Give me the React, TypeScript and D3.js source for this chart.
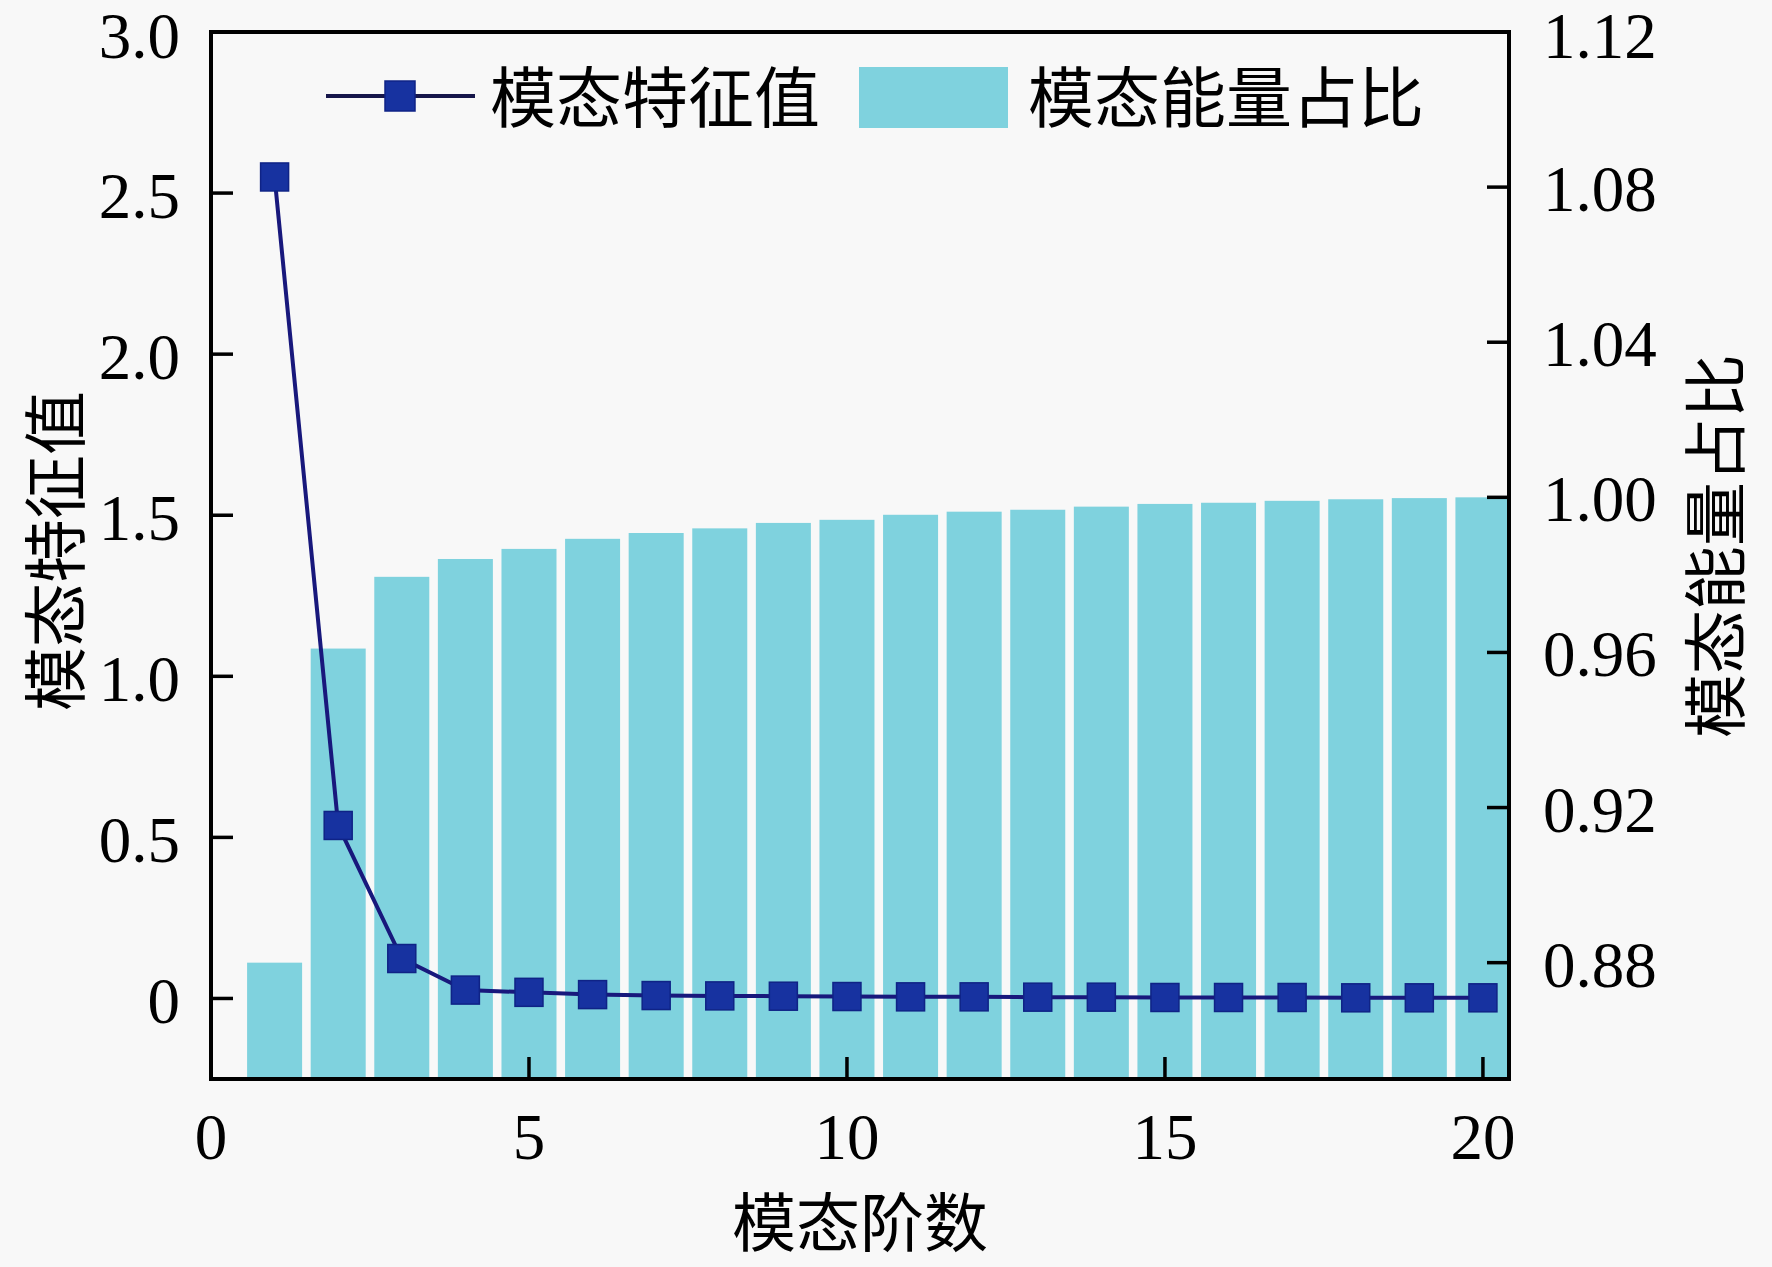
import React, { useEffect, useRef } from "react";
import * as d3 from "d3";

// mode order 1..20
const modeOrders = d3.range(1, 21);

// 模态特征值 (left axis)
const eigenValues = [
  2.55, 0.537, 0.124, 0.026, 0.019, 0.012, 0.009, 0.008, 0.007, 0.006,
  0.005, 0.005, 0.004, 0.004, 0.003, 0.003, 0.003, 0.002, 0.002, 0.002,
];

// 模态能量占比 (right axis)
const energyRatios = [
  0.88, 0.9610, 0.9795, 0.9841, 0.9867, 0.9893, 0.9908, 0.9920, 0.9934, 0.9942,
  0.9955, 0.9963, 0.9968, 0.9976, 0.9983, 0.9986, 0.9991, 0.9995, 0.9998, 1.0,
];

const xTicks = [0, 5, 10, 15, 20];
const leftTicks = [0, 0.5, 1.0, 1.5, 2.0, 2.5, 3.0];
const leftTickLabels = ["0", "0.5", "1.0", "1.5", "2.0", "2.5", "3.0"];
const rightTicks = [0.88, 0.92, 0.96, 1.0, 1.04, 1.08, 1.12];
const rightTickLabels = ["0.88", "0.92", "0.96", "1.00", "1.04", "1.08", "1.12"];

const seriesNames = ["模态特征值", "模态能量占比"];
const xTitle = "模态阶数";

const WIDTH = 1772;
const HEIGHT = 1267;

const App: React.FC = () => {
  const svgRef = useRef<SVGSVGElement>(null);

  useEffect(() => {
    if (!svgRef.current) return;
    const svg = d3.select(svgRef.current);
    svg.selectAll("*").remove();

    const margin = { top: 32, right: 263, bottom: 188, left: 211 };
    const innerWidth = WIDTH - margin.left - margin.right;
    const innerHeight = HEIGHT - margin.top - margin.bottom;

    const numFont = "'Liberation Serif', 'Times New Roman', serif";
    const cjkFont = "'Noto Sans CJK SC', 'Noto Sans', sans-serif";

    svg.append("rect")
      .attr("width", WIDTH)
      .attr("height", HEIGHT)
      .attr("fill", "#f8f8f8");

    const g = svg.append("g")
      .attr("transform", `translate(${margin.left},${margin.top})`);

    const xScale = d3.scaleLinear().domain([0, 20.41]).range([0, innerWidth]);
    const yLeft = d3.scaleLinear().domain([-0.25, 3.0]).range([innerHeight, 0]);
    const yRight = d3.scaleLinear().domain([0.85, 1.12]).range([innerHeight, 0]);

    g.append("clipPath")
      .attr("id", "plot-clip")
      .append("rect")
      .attr("width", innerWidth)
      .attr("height", innerHeight);

    // bars
    const barW = xScale(0.865) - xScale(0);
    g.append("g")
      .attr("clip-path", "url(#plot-clip)")
      .selectAll("rect")
      .data(modeOrders)
      .join("rect")
      .attr("x", (d) => xScale(d) - barW / 2)
      .attr("y", (d, i) => yRight(energyRatios[i]))
      .attr("width", barW)
      .attr("height", (d, i) => innerHeight - yRight(energyRatios[i]))
      .attr("fill", "#7fd2de");

    // eigenvalue line
    const line = d3.line<number>()
      .x((d) => xScale(d))
      .y((d, i) => yLeft(eigenValues[i]));

    g.append("path")
      .datum(modeOrders)
      .attr("fill", "none")
      .attr("stroke", "#18187c")
      .attr("stroke-width", 4)
      .attr("d", line);

    const mk = 28;
    g.selectAll("rect.marker")
      .data(modeOrders)
      .join("rect")
      .attr("class", "marker")
      .attr("x", (d) => xScale(d) - mk / 2)
      .attr("y", (d, i) => yLeft(eigenValues[i]) - mk / 2)
      .attr("width", mk)
      .attr("height", mk)
      .attr("fill", "#1732a0")
      .attr("stroke", "#0f2386")
      .attr("stroke-width", 1.5);

    // frame
    g.append("rect")
      .attr("width", innerWidth)
      .attr("height", innerHeight)
      .attr("fill", "none")
      .attr("stroke", "#000")
      .attr("stroke-width", 4);

    const tickLen = 22;
    // keep the topmost labels inside the picture
    const labelY = (y: number, off: number) => Math.max(y + off, 58 - margin.top);

    // x axis (inward ticks)
    const xAxis = g.append("g").attr("transform", `translate(0,${innerHeight})`);
    xAxis.selectAll("line")
      .data(xTicks)
      .join("line")
      .attr("x1", (d) => xScale(d))
      .attr("x2", (d) => xScale(d))
      .attr("y1", 0)
      .attr("y2", -tickLen)
      .attr("stroke", "#000")
      .attr("stroke-width", 3.5);
    xAxis.selectAll("text")
      .data(xTicks)
      .join("text")
      .attr("x", (d) => xScale(d))
      .attr("y", 80)
      .attr("text-anchor", "middle")
      .style("font-family", numFont)
      .style("font-size", "65px")
      .attr("fill", "#000")
      .text((d) => String(d));

    // left axis
    const lAxis = g.append("g");
    lAxis.selectAll("line")
      .data(leftTicks)
      .join("line")
      .attr("x1", 0)
      .attr("x2", tickLen)
      .attr("y1", (d) => yLeft(d))
      .attr("y2", (d) => yLeft(d))
      .attr("stroke", "#000")
      .attr("stroke-width", 3.5);
    lAxis.selectAll("text")
      .data(leftTicks)
      .join("text")
      .attr("x", -31)
      .attr("y", (d) => labelY(yLeft(d), 25))
      .attr("text-anchor", "end")
      .style("font-family", numFont)
      .style("font-size", "65px")
      .attr("fill", "#000")
      .text((d, i) => leftTickLabels[i]);

    // right axis
    const rAxis = g.append("g").attr("transform", `translate(${innerWidth},0)`);
    rAxis.selectAll("line")
      .data(rightTicks)
      .join("line")
      .attr("x1", 0)
      .attr("x2", -tickLen)
      .attr("y1", (d) => yRight(d))
      .attr("y2", (d) => yRight(d))
      .attr("stroke", "#000")
      .attr("stroke-width", 3.5);
    rAxis.selectAll("text")
      .data(rightTicks)
      .join("text")
      .attr("x", 34)
      .attr("y", (d) => labelY(yRight(d), 24))
      .attr("text-anchor", "start")
      .style("font-family", numFont)
      .style("font-size", "65px")
      .attr("fill", "#000")
      .text((d, i) => rightTickLabels[i]);

    // axis titles
    svg.append("text")
      .attr("x", margin.left + innerWidth / 2)
      .attr("y", 1218)
      .attr("text-anchor", "middle")
      .attr("dominant-baseline", "central")
      .style("font-family", cjkFont)
      .style("font-size", "64px")
      .attr("fill", "#000")
      .text(xTitle);

    svg.append("text")
      .attr("transform", "translate(51,551) rotate(-90)")
      .attr("text-anchor", "middle")
      .attr("dominant-baseline", "central")
      .style("font-family", cjkFont)
      .style("font-size", "64px")
      .attr("fill", "#000")
      .text(seriesNames[0]);

    svg.append("text")
      .attr("transform", "translate(1711,546) rotate(-90)")
      .attr("text-anchor", "middle")
      .attr("dominant-baseline", "central")
      .style("font-family", cjkFont)
      .style("font-size", "64px")
      .attr("fill", "#000")
      .text(seriesNames[1]);

    // legend
    const lg = svg.append("g");
    lg.append("line")
      .attr("x1", 326)
      .attr("x2", 475)
      .attr("y1", 96)
      .attr("y2", 96)
      .attr("stroke", "#16164a")
      .attr("stroke-width", 4);
    lg.append("rect")
      .attr("x", 400 - 15)
      .attr("y", 96 - 15)
      .attr("width", 30)
      .attr("height", 30)
      .attr("fill", "#1732a0")
      .attr("stroke", "#0f2386")
      .attr("stroke-width", 1.5);
    lg.append("text")
      .attr("x", 490)
      .attr("y", 93)
      .attr("dominant-baseline", "central")
      .style("font-family", cjkFont)
      .style("font-size", "66px")
      .attr("fill", "#000")
      .text(seriesNames[0]);
    lg.append("rect")
      .attr("x", 859)
      .attr("y", 67)
      .attr("width", 149)
      .attr("height", 61)
      .attr("fill", "#7fd2de");
    lg.append("text")
      .attr("x", 1028)
      .attr("y", 93)
      .attr("dominant-baseline", "central")
      .style("font-family", cjkFont)
      .style("font-size", "66px")
      .attr("fill", "#000")
      .text(seriesNames[1]);
  }, []);

  return (
    <svg
      ref={svgRef}
      width={WIDTH}
      height={HEIGHT}
      viewBox={`0 0 ${WIDTH} ${HEIGHT}`}
      style={{ position: "absolute", left: 0, top: 0, display: "block" }}
    />
  );
};

export default App;
